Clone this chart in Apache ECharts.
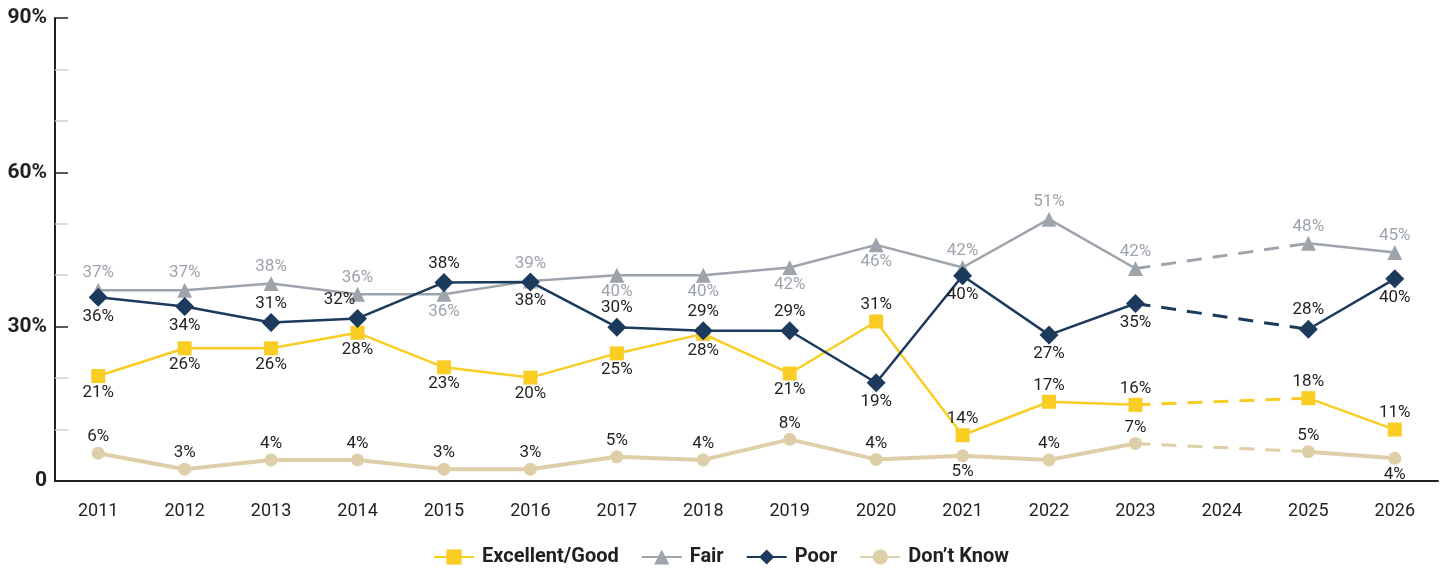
<!DOCTYPE html>
<html>
<head>
<meta charset="utf-8">
<script src="https://cdn.jsdelivr.net/npm/echarts@6/dist/echarts.min.js"></script>
<style>
    html, body { margin: 0; padding: 0; background: #fff; }
    #chart { width: 1442px; height: 576px; }
</style>
</head>
<body>
<div id="chart"></div>
<script>
// categories
const years = ['2011', '2012', '2013', '2014', '2015', '2016', '2017', '2018', '2019', '2020', '2021', '2022', '2023', '2024', '2025', '2026']

// plotted values (2024 has no survey)
const excellentGood = [20.4, 25.8, 25.8, 28.8, 22.1, 20.1, 24.8, 28.6, 20.9, 31.0, 8.9, 15.4, 14.8, null, 16.1, 10.0]
const fair = [37.1, 37.1, 38.4, 36.3, 36.3, 38.9, 40.0, 40.0, 41.5, 45.9, 41.5, 50.9, 41.3, null, 46.2, 44.4]
const poor = [35.7, 33.9, 30.8, 31.6, 38.6, 38.7, 29.9, 29.2, 29.2, 19.1, 39.9, 28.4, 34.5, null, 29.5, 39.3]
const dontKnow = [5.4, 2.3, 4.1, 4.1, 2.3, 2.3, 4.7, 4.1, 8.1, 4.2, 4.9, 4.1, 7.3, null, 5.7, 4.4]

// printed labels
const excellentGoodLabels = ['21%', '26%', '26%', '28%', '23%', '20%', '25%', '28%', '21%', '31%', '14%', '17%', '16%', '', '18%', '11%']
const fairLabels = ['37%', '37%', '38%', '36%', '36%', '39%', '40%', '40%', '42%', '46%', '42%', '51%', '42%', '', '48%', '45%']
const poorLabels = ['36%', '34%', '31%', '32%', '38%', '38%', '30%', '29%', '29%', '19%', '40%', '27%', '35%', '', '28%', '40%']
const dontKnowLabels = ['6%', '3%', '4%', '4%', '3%', '3%', '5%', '4%', '8%', '4%', '5%', '4%', '7%', '', '5%', '4%']

// label side: t = above, b = below
const excellentGoodSide = ['b', 'b', 'b', 'b', 'b', 'b', 'b', 'b', 'b', 't', 't', 't', 't', '', 't', 't']
const fairSide = ['t', 't', 't', 't', 'b', 't', 'b', 'b', 'b', 'b', 't', 't', 't', '', 't', 't']
const poorSide = ['b', 'b', 't', 't', 't', 'b', 't', 't', 't', 'b', 'b', 'b', 'b', '', 't', 'b']
const dontKnowSide = ['t', 't', 't', 't', 't', 't', 't', 't', 't', 't', 'b', 't', 't', '', 't', 'b']

const yTicks = [0, 30, 60, 90]

const FONT = "Roboto, 'DejaVu Sans', sans-serif"

const colors = {
    excellent: '#f9cd24',
    fair: '#9ea4ac',
    poor: '#1c3a5c',
    dk: '#dfcfa8'
}

const buildData = (values, labels, sides, labelColor) => {
    return values.map((v, i) => {
        if (v === null) return null
        return {
            value: v,
            label: {
                show: true,
                position: sides[i] === 't' ? 'top' : 'bottom',
                formatter: labels[i],
                color: labelColor,
                fontFamily: FONT,
                fontSize: 17,
                distance: 1
            }
        }
    })
}

// only 2023 and 2025 kept, joined with a dashed line across 2024
const gapData = (values) => values.map((v, i) => (years[i] === '2023' || years[i] === '2025') ? v : null)

const mainSeries = (name, values, labels, sides, color, symbol, size, width, labelColor) => ({
    name: name,
    type: 'line',
    data: buildData(values, labels, sides, labelColor),
    connectNulls: false,
    symbol: symbol,
    symbolSize: size,
    lineStyle: {color: color, width: width},
    itemStyle: {color: color},
    emphasis: {disabled: true}
})

const dashSeries = (values, color, width) => ({
    type: 'line',
    data: gapData(values),
    connectNulls: true,
    symbol: 'none',
    lineStyle: {color: color, width: width, type: [15, 11]},
    silent: true,
    z: 1
})

const poorData = buildData(poor, poorLabels, poorSide, '#231f20')
poorData[3].label.offset = [-18, 0]

const myChart = echarts.init(document.getElementById('chart'))

const option = {
    animation: false,
    grid: {
        left: 55,
        right: 4,
        top: 18,
        bottom: 95,
        outerBoundsMode: 'none'
    },
    legend: {
        bottom: 4,
        left: 'center',
        data: ['Excellent/Good', 'Fair', 'Poor', "Don’t Know"],
        itemWidth: 40,
        itemHeight: 19,
        itemGap: 22,
        textStyle: {
            fontFamily: FONT,
            fontWeight: 'bold',
            fontSize: 20,
            color: '#231f20',
            padding: [0, 0, 0, 3]
        }
    },
    xAxis: {
        type: 'category',
        data: years,
        boundaryGap: true,
        axisLine: {lineStyle: {color: '#231f20', width: 2}},
        axisTick: {inside: true, length: 12, lineStyle: {color: '#231f20', width: 1.5}},
        axisLabel: {
            margin: 21,
            fontFamily: FONT,
            fontSize: 18,
            color: '#231f20'
        },
        splitLine: {show: false}
    },
    yAxis: {
        type: 'value',
        min: yTicks[0],
        max: yTicks[yTicks.length - 1],
        interval: 30,
        axisLine: {show: true, lineStyle: {color: '#231f20', width: 2}},
        axisTick: {show: true, inside: true, length: 13, lineStyle: {color: '#231f20', width: 1.5}},
        minorTick: {show: true, splitNumber: 3, length: 13, lineStyle: {color: '#cfcfcf', width: 1.5}},
        axisLabel: {
            margin: 8,
            fontFamily: FONT,
            fontWeight: 'bold',
            fontSize: 21,
            color: '#231f20',
            formatter: (v) => v === 0 ? '0' : v + '%'
        },
        splitLine: {show: false}
    },
    series: [
        dashSeries(dontKnow, colors.dk, 3),
        dashSeries(fair, colors.fair, 3),
        dashSeries(excellentGood, colors.excellent, 3),
        dashSeries(poor, colors.poor, 3),
        mainSeries("Don’t Know", dontKnow, dontKnowLabels, dontKnowSide, colors.dk, 'circle', 13, 4, '#231f20'),
        mainSeries('Fair', fair, fairLabels, fairSide, colors.fair, 'triangle', 15, 2.5, '#9ea4ac'),
        mainSeries('Excellent/Good', excellentGood, excellentGoodLabels, excellentGoodSide, colors.excellent, 'rect', 14, 2.5, '#231f20'),
        Object.assign(mainSeries('Poor', poor, poorLabels, poorSide, colors.poor, 'diamond', 19, 2.5, '#231f20'), {data: poorData})
    ]
}

option && myChart.setOption(option)
</script>
</body>
</html>
